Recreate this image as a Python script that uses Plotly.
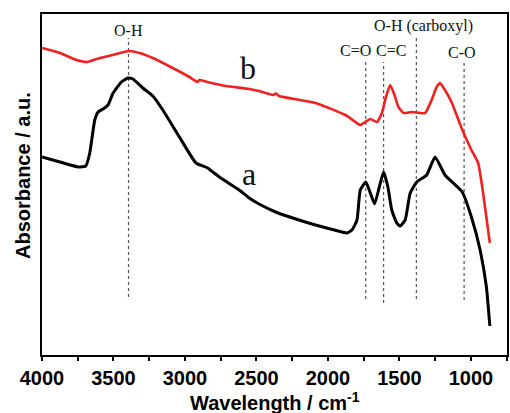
import plotly.graph_objects as go

# FTIR spectra (wavenumber in cm^-1, absorbance in arbitrary units)
wn_b = [4000, 3875, 3758, 3684, 3596, 3506, 3392, 3318, 3225, 3086, 2969, 2912, 2900,
        2844, 2714, 2551, 2482, 2384, 2363, 2343, 2087, 1878, 1808, 1774, 1739, 1704,
        1658, 1623, 1595, 1565, 1535, 1507, 1472, 1414, 1321, 1275, 1240, 1216, 1182,
        1136, 1066, 997, 950, 915, 868]
abs_b = [3.07, 3.02, 2.95, 2.93, 2.97, 3.00, 3.04, 3.02, 2.97, 2.87, 2.78, 2.73, 2.75,
         2.73, 2.69, 2.66, 2.64, 2.60, 2.615, 2.59, 2.52, 2.40, 2.33, 2.30, 2.33, 2.36,
         2.33, 2.42, 2.58, 2.70, 2.60, 2.48, 2.42, 2.43, 2.42, 2.55, 2.68, 2.72, 2.65,
         2.53, 2.27, 2.05, 1.92, 1.62, 1.12]

wn_a = [4000, 3875, 3747, 3694, 3666, 3631, 3608, 3573, 3538, 3503, 3445, 3399, 3364,
        3295, 3225, 3155, 3039, 2923, 2842, 2760, 2621, 2551, 2482, 2366, 2203, 2087,
        1902, 1867, 1832, 1797, 1774, 1735, 1704, 1674, 1641, 1611, 1581, 1554, 1519,
        1495, 1460, 1425, 1379, 1310, 1251, 1182, 1124, 1061, 997, 936, 892, 868]
abs_a = [1.98, 1.93, 1.88, 1.89, 2.02, 2.35, 2.43, 2.46, 2.50, 2.62, 2.73, 2.77, 2.76,
         2.67, 2.59, 2.45, 2.18, 1.92, 1.87, 1.78, 1.65, 1.57, 1.51, 1.43, 1.35, 1.30,
         1.23, 1.22, 1.25, 1.35, 1.65, 1.73, 1.62, 1.51, 1.68, 1.83, 1.68, 1.45, 1.32,
         1.29, 1.35, 1.62, 1.73, 1.80, 1.98, 1.80, 1.72, 1.63, 1.38, 1.05, 0.68, 0.29]

# Band assignments: position, guide-line extent and label placement
band_names = ["O-H", "C=O", "C=C", "O-H (carboxyl)", "C-O"]
band_wn = [3395, 1736, 1611, 1382, 1048]
band_top = [3.17, 2.93, 2.93, 3.18, 2.92]
band_bottom = [0.58, 0.56, 0.52, 0.56, 0.55]
label_wn = [3394, 1806, 1556, 1333, 1061]
label_abs = [3.25, 3.05, 3.05, 3.29, 3.03]

curve_names = ["a", "b"]
curve_label_wn = [2551, 2558]
curve_label_abs = [1.81, 2.87]

fig = go.Figure()

for wn, top, bot in zip(band_wn, band_top, band_bottom):
    fig.add_trace(go.Scatter(
        x=[wn, wn], y=[bot, top], mode="lines",
        line=dict(color="#555555", width=1.2, dash="dot"),
        showlegend=False, hoverinfo="skip"))

fig.add_trace(go.Scatter(
    x=wn_b, y=abs_b, mode="lines", name="b",
    line=dict(color="#ee2222", width=2.6, shape="spline", smoothing=0.45),
    showlegend=False))
fig.add_trace(go.Scatter(
    x=wn_a, y=abs_a, mode="lines", name="a",
    line=dict(color="#000000", width=3, shape="spline", smoothing=0.45),
    showlegend=False))

serif = "Liberation Serif, Times New Roman, serif"
annotations = []
for name, x, y in zip(band_names, label_wn, label_abs):
    annotations.append(dict(x=x, y=y, text=name, showarrow=False,
                            xanchor="center", yanchor="middle",
                            font=dict(family=serif, size=16, color="#111111")))
for name, x, y in zip(curve_names, curve_label_wn, curve_label_abs):
    annotations.append(dict(x=x, y=y, text=name, showarrow=False,
                            xanchor="center", yanchor="middle",
                            font=dict(family=serif, size=32, color="#111111")))

sans = "Liberation Sans, Arial, sans-serif"
annotations.append(dict(xref="paper", yref="paper", x=0, y=0.525, xshift=-19,
                        text="Absorbance / a.u.", textangle=-90, showarrow=False,
                        xanchor="center", yanchor="middle",
                        font=dict(family=sans, size=20, color="#000000", weight="bold")))
annotations.append(dict(xref="paper", yref="paper", x=0.5, y=0, yshift=-46,
                        text="Wavelength / cm<sup>-1</sup>", showarrow=False,
                        xanchor="center", yanchor="middle",
                        font=dict(family=sans, size=20, color="#000000", weight="bold")))

fig.update_layout(
    width=510, height=413,
    margin=dict(l=42, r=1, t=14, b=58),
    paper_bgcolor="white", plot_bgcolor="white",
    annotations=annotations,
    xaxis=dict(
        range=[4000, 748], tick0=1000, dtick=500,
        ticks="outside", ticklen=4, tickwidth=2, tickcolor="black",
        minor=dict(dtick=250, ticks="outside", ticklen=4, tickwidth=2, tickcolor="black"),
        showline=True, linewidth=2, linecolor="black", mirror=True,
        showgrid=False, zeroline=False,
        tickfont=dict(family=sans, size=20, color="black", weight="bold"),
    ),
    yaxis=dict(
        range=[0, 3.41], showticklabels=False, ticks="",
        showline=True, linewidth=2, linecolor="black", mirror=True,
        showgrid=False, zeroline=False,
    ),
)

fig.write_html("out.html")
